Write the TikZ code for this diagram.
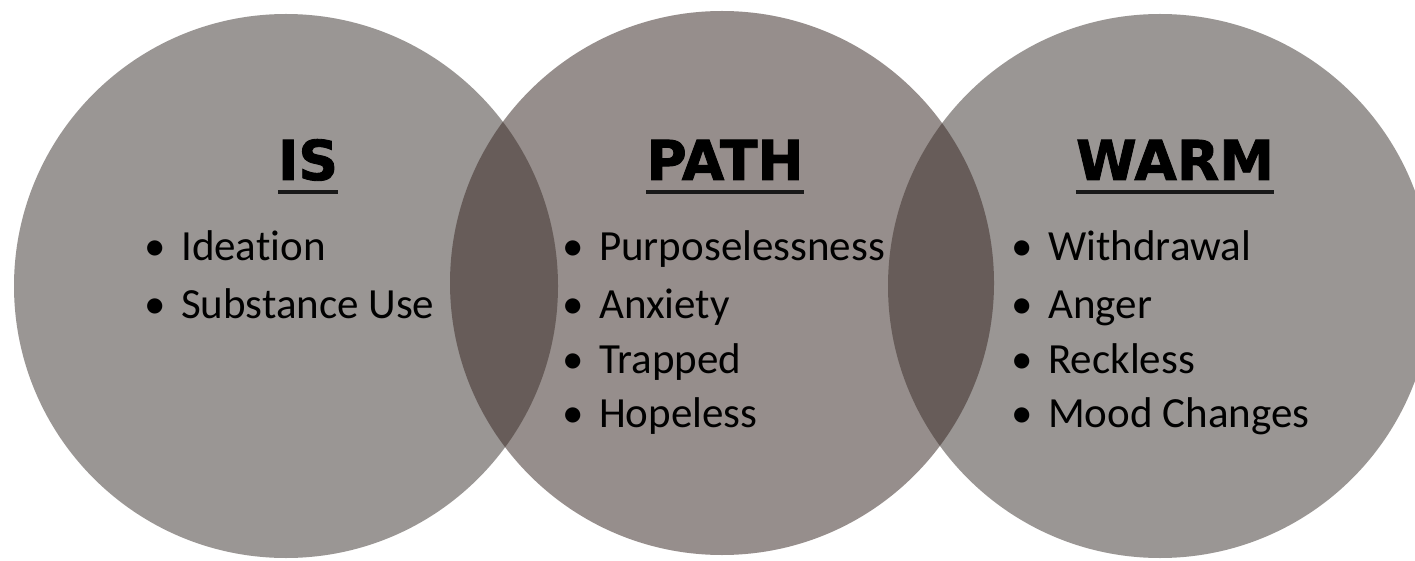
\documentclass[tikz,border=0pt]{standalone}
\usepackage{fontspec}
\setmainfont{Carlito}[Ligatures=NoCommon]
\newfontfamily\titlefont{DejaVu Sans Bold}[FakeBold=1.6]
\usetikzlibrary{calc}
\definecolor{sidegray}{RGB}{66,58,53}
\definecolor{midgray}{RGB}{58,42,38}
\tikzset{
	ring/.style={fill opacity=0.53},
	heading/.style={inner sep=0pt, anchor=base, font=\titlefont\fontsize{55}{60}\selectfont},
	itemtext/.style={inner sep=0pt, anchor=base west, font=\fontsize{43}{55}\selectfont},
	bar/.style={line width=4pt, black!90}
}
\newcommand{\bul}{\llap{\textbullet\hspace{15pt}}}
\begin{document}
\begin{tikzpicture}[x=1pt, y=-1pt]
			\useasboundingbox (0,0) rectangle (1415,561);
			\clip (0,0) rectangle (1415,561);
			\fill[white] (0,0) rectangle (1415,561);
			\coordinate (cIS) at(286,286);
			\coordinate (cPATH) at(722,283);
			\coordinate (cWARM) at(1160,286);
			\fill[ring, sidegray] (cIS) circle (272pt);
			\fill[ring, sidegray] (cWARM) circle (272pt);
			\fill[ring, midgray] (cPATH) circle (272pt);
			% headings
			\node[heading] (is) at(308,180) {IS};
			\node[heading] (path) at(725,180) {PATH};
			\node[heading] (warm) at(1175,180) {WARM};
			\foreach \h in {is,path,warm}
				\draw[bar] ($(\h.base west)+(0,12)$) -- ($(\h.base east)+(0,12)$);
			% lists
			\foreach \y/\txt [count=\i] in {261/Ideation, 318/Substance Use}
				\node[itemtext] (is\i) at(181,\y) {\bul\txt};
			\foreach \y/\txt [count=\i] in {261/Purposelessness, 318/Anxiety, 373/Trapped, 427/Hopeless}
				\node[itemtext] (path\i) at(599,\y) {\bul\txt};
			\foreach \y/\txt [count=\i] in {261/Withdrawal, 318/Anger, 373/Reckless, 427/Mood Changes}
				\node[itemtext] (warm\i) at(1048,\y) {\bul\txt};
		\end{tikzpicture}
\end{document}
